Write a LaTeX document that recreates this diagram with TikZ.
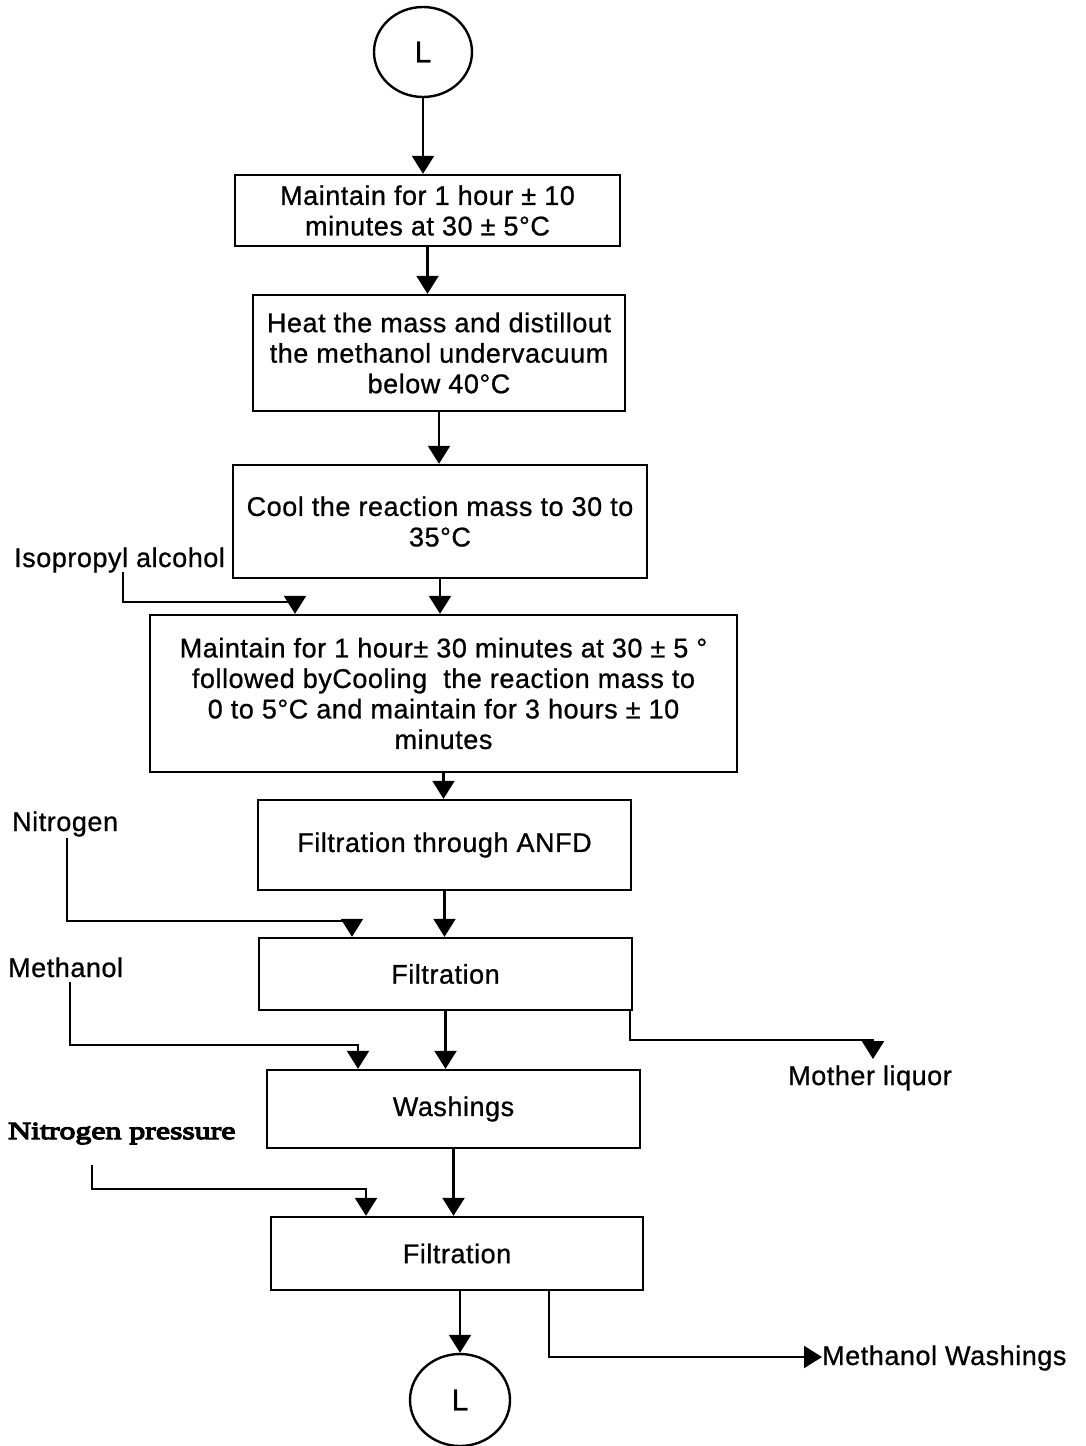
\documentclass[tikz,border=0pt]{standalone}
\usepackage{fontspec}
\setmainfont{Liberation Sans}
\newfontfamily\flowfont{Liberation Sans}[LetterSpace=2.0,FakeBold=0.8]
\newfontfamily\heavyfont{Liberation Serif}[FakeBold=5,FakeStretch=1.3]
\usetikzlibrary{arrows.meta,shapes.geometric}

\tikzset{
  stepbox/.style={draw, line width=2.4pt, rectangle, align=center, inner sep=0pt,
    font=\flowfont\fontsize{27}{30.5}\selectfont},
  connector/.style={draw, ellipse, line width=2.4pt, inner sep=0pt,
    minimum width=98pt, minimum height=90pt},
  feedlabel/.style={inner sep=0pt, font=\flowfont\fontsize{27}{30}\selectfont},
  flow/.style={line width=2.4pt, -{Triangle[width=22pt,length=18pt]}}
}

\begin{document}
\begin{tikzpicture}[x=1pt,y=-1pt]
\useasboundingbox[fill=white] (0,0) rectangle (1086,1446);

% off-page connectors
\node[connector] (c1) at (423,52) {\flowfont\fontsize{30}{32}\selectfont L};
\node[connector, minimum width=100pt, minimum height=92pt] (c2) at (460,1400)
  {\flowfont\fontsize{30}{32}\selectfont L};

% process steps
\node[stepbox, minimum width=385pt, minimum height=71pt] (b1) at (427.5,210.5)
  {Maintain for 1 hour ± 10\\minutes at 30 ± 5°C};
\node[stepbox, minimum width=372pt, minimum height=116pt] (b2) at (439,353)
  {Heat the mass and distillout\\the methanol undervacuum\\below 40°C};
\node[stepbox, minimum width=414pt, minimum height=113pt] (b3) at (440,521.5)
  {Cool the reaction mass to 30 to\\35°C};
\node[stepbox, minimum width=587pt, minimum height=157pt] (b4) at (443.5,693.5)
  {Maintain for 1 hour± 30 minutes at 30 ± 5 °\\followed byCooling\ \ the reaction mass to\\0 to 5°C and maintain for 3 hours ± 10\\minutes};
\node[stepbox, minimum width=373pt, minimum height=90pt] (b5) at (444.5,845)
  {Filtration through ANFD};
\node[stepbox, minimum width=373pt, minimum height=72pt] (b6) at (445.5,974)
  {Filtration};
\node[stepbox, minimum width=373pt, minimum height=78pt] (b7) at (453.5,1109)
  {Washings};
\node[stepbox, minimum width=372pt, minimum height=73pt] (b8) at (457,1253.5)
  {Filtration};

% feeds and outlets
\node[feedlabel, anchor=base west] (ipa) at (14,567) {Isopropyl alcohol};
\node[feedlabel, anchor=base west] (nit) at (12,831) {Nitrogen};
\node[feedlabel, anchor=base west] (meoh) at (8,977) {Methanol};
\node[feedlabel, anchor=base] (ml) at (870,1085) {Mother liquor};
\node[inner sep=0pt, anchor=base west, font=\heavyfont\fontsize{24.5}{27}\selectfont] (np) at (8,1139) {Nitrogen pressure};
\node[feedlabel, anchor=base west] (mw) at (822,1365) {Methanol Washings};

% main line
\draw[flow] (c1.south) -- (c1.south |- b1.north);
\draw[flow] (b1.south) -- (b1.south |- b2.north);
\draw[flow] (b2.south) -- (b2.south |- b3.north);
\draw[flow] (b3.south) -- (b3.south |- b4.north);
\draw[flow] (b4.south) -- (b4.south |- b5.north);
\draw[flow] (b5.south) -- (b5.south |- b6.north);
\draw[flow] (b6.south) -- (b6.south |- b7.north);
\draw[flow] (b7.south) -- (b7.south |- b8.north);
\draw[flow] (b8.south -| c2.north) -- (c2.north);

% side streams
\coordinate (ipaS) at (123,572);  \coordinate (ipaJ) at (295,602);
\draw[flow] (ipaS) |- (ipaJ) -- (ipaJ |- b4.north);

\coordinate (nitS) at (67,838);   \coordinate (nitJ) at (352,921);
\draw[flow] (nitS) |- (nitJ) -- (nitJ |- b6.north);

\coordinate (meS) at (70,982);    \coordinate (meJ) at (358,1045);
\draw[flow] (meS) |- (meJ) -- (meJ |- b7.north);

\coordinate (npS) at (92,1165);   \coordinate (npJ) at (366,1189);
\draw[flow] (npS) |- (npJ) -- (npJ |- b8.north);

\coordinate (mlS) at (630,1010);  \coordinate (mlJ) at (873,1040);
\coordinate (mlT) at (873,1059);
\draw[flow] (mlS |- b6.south) |- (mlJ) -- (mlT);

\coordinate (mwS) at (549,1290);  \coordinate (mwJ) at (549,1357);
\draw[flow] (mwS |- b8.south) -- (mwJ) -- (mwJ -| mw.west);
\end{tikzpicture}
\end{document}
